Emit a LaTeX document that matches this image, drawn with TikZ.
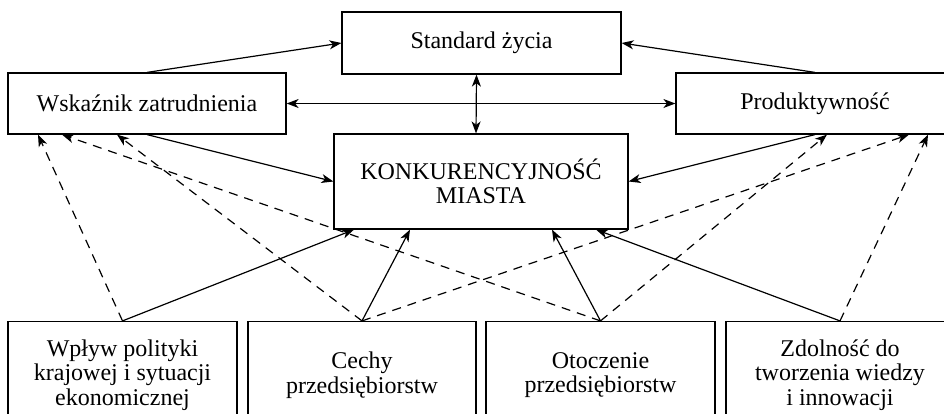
\documentclass[tikz,border=0pt]{standalone}
\usepackage{fontspec}
\setmainfont{Liberation Serif}
\usetikzlibrary{arrows.meta}
\begin{document}
\begin{tikzpicture}[x=1pt,y=-1pt,
  box/.style={draw, line width=1.2pt, inner sep=0pt, align=center,
    font=\fontsize{24}{24.5}\selectfont},
  topbox/.style={box, minimum width=278pt, minimum height=61pt},
  basebox/.style={box, minimum width=228pt, minimum height=107pt},
  tip/.tip={Stealth[length=12pt,width=9pt,inset=3.5pt]},
  link/.style={line width=1.2pt, -tip},
  both/.style={line width=1.2pt, tip-tip},
  hint/.style={link, dash pattern=on 9pt off 7pt}]
\useasboundingbox (0,0) rectangle (944,413);
\clip (0,0) rectangle (944,413);

% upper row
\node[topbox, minimum width=279pt, minimum height=62pt] (S) at (481.5,43) {Standard życia};
\node[topbox] (W) at (147,103.5) {Wskaźnik zatrudnienia};
\node[topbox] (P) at (815,103.5) {Produktywność};
\node[box, minimum width=294pt, minimum height=95pt] (K) at (481,181.5)
  {KONKURENCYJNOŚĆ\\MIASTA};

% factor boxes along the bottom
\node[basebox, minimum width=229pt] (B1) at (122.5,375)
  {Wpływ polityki\\krajowej i sytuacji\\ekonomicznej};
\node[basebox] (B2) at (362,375) {Cechy\\przedsiębiorstw};
\node[basebox, minimum width=229pt] (B3) at (600.5,375) {Otoczenie\\przedsiębiorstw};
\node[basebox] (B4) at (840,375) {Zdolność do\\tworzenia wiedzy\\i innowacji};

% links between the upper boxes
\draw[link] (W.north) -- (S.west);
\draw[link] (P.north) -- (S.east);
\draw[both] (W.east) -- (P.west);
\draw[both] ([xshift=-5pt]S.south) -- ([xshift=-5pt]K.north);
\draw[link] (W.south) -- (K.west);
\draw[link] (P.south) -- (K.east);

% direct influence of the factors
\draw[link] (B1.north) -- ([xshift=-127pt]K.south);
\draw[link] (B2.north) -- ([xshift=-71pt]K.south);
\draw[link] (B3.north) -- ([xshift=71pt]K.south);
\draw[link] (B4.north) -- ([xshift=115pt]K.south);

% indirect influence of the factors
\draw[hint] (B1.north) -- ([xshift=-109pt]W.south);
\draw[hint] (B2.north) -- ([xshift=-30pt]W.south);
\draw[hint] (B3.north) -- ([xshift=-85pt]W.south);
\draw[hint] (B2.north) -- ([xshift=94pt]P.south);
\draw[hint] (B3.north) -- ([xshift=12pt]P.south);
\draw[hint] (B4.north) -- ([xshift=113pt]P.south);
\end{tikzpicture}
\end{document}
